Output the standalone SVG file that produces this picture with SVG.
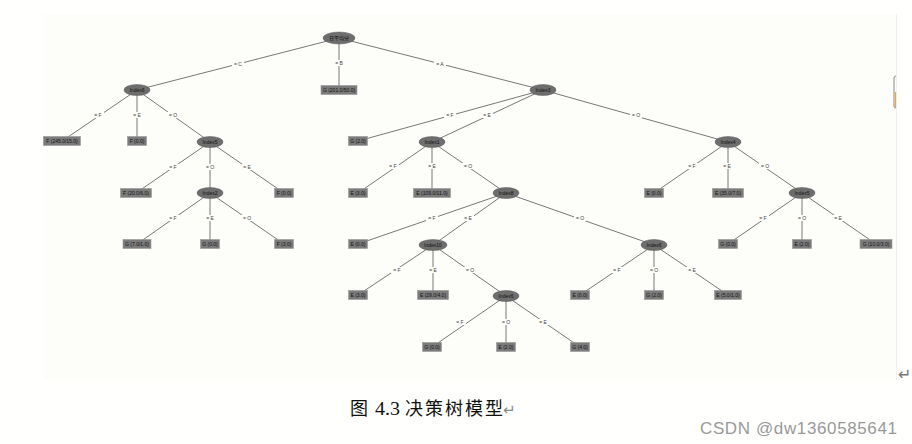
<svg xmlns="http://www.w3.org/2000/svg" width="912" height="444" viewBox="0 0 912 444">
<defs>
<style>
.bg{fill:#fdfdfa}
.e line{stroke:#555;stroke-width:0.8}
.lb rect{fill:#fdfdfa}
.lb text{font-family:"Liberation Sans",Arial,sans-serif;font-size:5px;fill:#444;text-anchor:middle}
.in ellipse{fill:#6e6e6e;stroke:#5a5a5a;stroke-width:0.5}
.lf rect{fill:#7b7b7b;stroke:#9a9a9a;stroke-width:0.6}
.in text,.lf text{font-family:"Liberation Sans",Arial,"Noto Sans CJK SC",sans-serif;font-size:5px;fill:#111;text-anchor:middle}
.cap{font-family:"Liberation Serif","Noto Sans CJK SC",serif;font-size:18px;fill:#111}
</style>
</defs>
<rect width="912" height="444" fill="#fffffe"/>
<rect class="bg" x="44" y="14" width="852" height="366"/>
<line x1="896.5" y1="14" x2="896.5" y2="380" stroke="#f0f0ec" stroke-width="1"/>
<g id="connectors" class="e">
<line x1="339" y1="38" x2="137" y2="90"/>
<line x1="339" y1="38" x2="339" y2="90"/>
<line x1="339" y1="38" x2="543" y2="90"/>
<line x1="137" y1="90" x2="62" y2="141"/>
<line x1="137" y1="90" x2="137" y2="141"/>
<line x1="137" y1="90" x2="210" y2="142"/>
<line x1="210" y1="142" x2="136" y2="193"/>
<line x1="210" y1="142" x2="210" y2="193"/>
<line x1="210" y1="142" x2="284" y2="193"/>
<line x1="210" y1="193" x2="137" y2="244"/>
<line x1="210" y1="193" x2="210" y2="244"/>
<line x1="210" y1="193" x2="284" y2="244"/>
<line x1="543" y1="90" x2="358" y2="141"/>
<line x1="543" y1="90" x2="432" y2="142"/>
<line x1="543" y1="90" x2="728" y2="142"/>
<line x1="432" y1="142" x2="358" y2="193"/>
<line x1="432" y1="142" x2="432" y2="193"/>
<line x1="432" y1="142" x2="506" y2="193"/>
<line x1="506" y1="193" x2="358" y2="244"/>
<line x1="506" y1="193" x2="433" y2="245"/>
<line x1="506" y1="193" x2="654" y2="245"/>
<line x1="433" y1="245" x2="358" y2="295"/>
<line x1="433" y1="245" x2="433" y2="295"/>
<line x1="433" y1="245" x2="506" y2="296"/>
<line x1="506" y1="296" x2="432" y2="347"/>
<line x1="506" y1="296" x2="506" y2="347"/>
<line x1="506" y1="296" x2="580" y2="347"/>
<line x1="654" y1="245" x2="580" y2="295"/>
<line x1="654" y1="245" x2="654" y2="295"/>
<line x1="654" y1="245" x2="728" y2="295"/>
<line x1="728" y1="142" x2="654" y2="193"/>
<line x1="728" y1="142" x2="728" y2="193"/>
<line x1="728" y1="142" x2="802" y2="193"/>
<line x1="802" y1="193" x2="728" y2="244"/>
<line x1="802" y1="193" x2="802" y2="244"/>
<line x1="802" y1="193" x2="876" y2="244"/>
</g>
<g id="edge-labels" class="lb">
<rect x="232" y="61" width="12" height="6"/><text x="238" y="65.8">= C</text>
<rect x="333" y="60" width="12" height="6"/><text x="339" y="64.8">= B</text>
<rect x="434" y="61" width="12" height="6"/><text x="440" y="65.8">= A</text>
<rect x="92" y="112" width="12" height="6"/><text x="98" y="116.8">= F</text>
<rect x="131" y="112" width="12" height="6"/><text x="137" y="116.8">= E</text>
<rect x="167" y="112" width="12" height="6"/><text x="173" y="116.8">= O</text>
<rect x="167" y="164" width="12" height="6"/><text x="173" y="168.8">= F</text>
<rect x="204" y="164" width="12" height="6"/><text x="210" y="168.8">= O</text>
<rect x="241" y="164" width="12" height="6"/><text x="247" y="168.8">= E</text>
<rect x="167" y="215" width="12" height="6"/><text x="173" y="219.8">= F</text>
<rect x="204" y="215" width="12" height="6"/><text x="210" y="219.8">= E</text>
<rect x="241" y="215" width="12" height="6"/><text x="247" y="219.8">= O</text>
<rect x="444" y="112" width="12" height="6"/><text x="450" y="116.8">= F</text>
<rect x="481" y="112" width="12" height="6"/><text x="487" y="116.8">= E</text>
<rect x="630" y="112" width="12" height="6"/><text x="636" y="116.8">= O</text>
<rect x="387" y="163" width="12" height="6"/><text x="393" y="167.8">= F</text>
<rect x="426" y="163" width="12" height="6"/><text x="432" y="167.8">= E</text>
<rect x="462" y="163" width="12" height="6"/><text x="468" y="167.8">= O</text>
<rect x="426" y="215" width="12" height="6"/><text x="432" y="219.8">= F</text>
<rect x="462" y="215" width="12" height="6"/><text x="468" y="219.8">= E</text>
<rect x="574" y="215" width="12" height="6"/><text x="580" y="219.8">= O</text>
<rect x="391" y="267" width="12" height="6"/><text x="397" y="271.8">= F</text>
<rect x="427" y="267" width="12" height="6"/><text x="433" y="271.8">= E</text>
<rect x="464" y="267" width="12" height="6"/><text x="470" y="271.8">= O</text>
<rect x="454" y="319" width="12" height="6"/><text x="460" y="323.8">= F</text>
<rect x="500" y="319" width="12" height="6"/><text x="506" y="323.8">= O</text>
<rect x="537" y="319" width="12" height="6"/><text x="543" y="323.8">= E</text>
<rect x="611" y="267" width="12" height="6"/><text x="617" y="271.8">= F</text>
<rect x="648" y="267" width="12" height="6"/><text x="654" y="271.8">= O</text>
<rect x="686" y="267" width="12" height="6"/><text x="692" y="271.8">= E</text>
<rect x="686" y="163" width="12" height="6"/><text x="692" y="167.8">= F</text>
<rect x="721" y="163" width="12" height="6"/><text x="727" y="167.8">= E</text>
<rect x="759" y="163" width="12" height="6"/><text x="765" y="167.8">= O</text>
<rect x="757" y="215" width="12" height="6"/><text x="763" y="219.8">= F</text>
<rect x="796" y="215" width="12" height="6"/><text x="802" y="219.8">= O</text>
<rect x="832" y="215" width="12" height="6"/><text x="838" y="219.8">= E</text>
</g>
<g id="root" class="in"><ellipse cx="339" cy="38" rx="16" ry="6"/><text x="339" y="39.8">日平均分</text></g>
<g id="index6a" class="in"><ellipse cx="137" cy="90" rx="13" ry="5.5"/><text x="137" y="91.8">Index6</text></g>
<g id="index5a" class="in"><ellipse cx="210" cy="142" rx="13" ry="5.5"/><text x="210" y="143.8">Index5</text></g>
<g id="index2" class="in"><ellipse cx="210" cy="193" rx="13" ry="5.5"/><text x="210" y="194.8">Index2</text></g>
<g id="index3" class="in"><ellipse cx="543" cy="90" rx="13" ry="5.5"/><text x="543" y="91.8">Index3</text></g>
<g id="index1" class="in"><ellipse cx="432" cy="142" rx="13" ry="5.5"/><text x="432" y="143.8">Index1</text></g>
<g id="index8" class="in"><ellipse cx="506" cy="193" rx="13" ry="5.5"/><text x="506" y="194.8">Index8</text></g>
<g id="index10" class="in"><ellipse cx="433" cy="245" rx="14" ry="5.5"/><text x="433" y="246.8">Index10</text></g>
<g id="index6b" class="in"><ellipse cx="506" cy="296" rx="13" ry="5.5"/><text x="506" y="297.8">Index6</text></g>
<g id="index6c" class="in"><ellipse cx="654" cy="245" rx="13" ry="5.5"/><text x="654" y="246.8">Index6</text></g>
<g id="index4" class="in"><ellipse cx="728" cy="142" rx="13" ry="5.5"/><text x="728" y="143.8">Index4</text></g>
<g id="index5b" class="in"><ellipse cx="802" cy="193" rx="13" ry="5.5"/><text x="802" y="194.8">Index5</text></g>
<g id="leaf1" class="lf"><rect x="321" y="85.5" width="36" height="9"/><text x="339" y="91.8">G (201.0/50.0)</text></g>
<g id="leaf2" class="lf"><rect x="43.5" y="136.5" width="37" height="9"/><text x="62" y="142.8">F (245.0/15.0)</text></g>
<g id="leaf3" class="lf"><rect x="127.5" y="136.5" width="19" height="9"/><text x="137" y="142.8">F (0.0)</text></g>
<g id="leaf4" class="lf"><rect x="120.5" y="188.5" width="31" height="9"/><text x="136" y="194.8">F (20.0/6.0)</text></g>
<g id="leaf5" class="lf"><rect x="274.5" y="188.5" width="19" height="9"/><text x="284" y="194.8">F (0.0)</text></g>
<g id="leaf6" class="lf"><rect x="123" y="239.5" width="28" height="9"/><text x="137" y="245.8">G (7.0/1.0)</text></g>
<g id="leaf7" class="lf"><rect x="200.5" y="239.5" width="19" height="9"/><text x="210" y="245.8">G (0.0)</text></g>
<g id="leaf8" class="lf"><rect x="274.5" y="239.5" width="19" height="9"/><text x="284" y="245.8">F (3.0)</text></g>
<g id="leaf9" class="lf"><rect x="348.5" y="136.5" width="19" height="9"/><text x="358" y="142.8">G (2.0)</text></g>
<g id="leaf10" class="lf"><rect x="348.5" y="188.5" width="19" height="9"/><text x="358" y="194.8">E (3.0)</text></g>
<g id="leaf11" class="lf"><rect x="413.5" y="188.5" width="37" height="9"/><text x="432" y="194.8">E (109.0/11.0)</text></g>
<g id="leaf12" class="lf"><rect x="348.5" y="239.5" width="19" height="9"/><text x="358" y="245.8">E (0.0)</text></g>
<g id="leaf13" class="lf"><rect x="348.5" y="290.5" width="19" height="9"/><text x="358" y="296.8">E (3.0)</text></g>
<g id="leaf14" class="lf"><rect x="417.5" y="290.5" width="31" height="9"/><text x="433" y="296.8">E (29.0/4.0)</text></g>
<g id="leaf15" class="lf"><rect x="422.5" y="342.5" width="19" height="9"/><text x="432" y="348.8">G (0.0)</text></g>
<g id="leaf16" class="lf"><rect x="496.5" y="342.5" width="19" height="9"/><text x="506" y="348.8">E (2.0)</text></g>
<g id="leaf17" class="lf"><rect x="570.5" y="342.5" width="19" height="9"/><text x="580" y="348.8">G (4.0)</text></g>
<g id="leaf18" class="lf"><rect x="570.5" y="290.5" width="19" height="9"/><text x="580" y="296.8">E (0.0)</text></g>
<g id="leaf19" class="lf"><rect x="644.5" y="290.5" width="19" height="9"/><text x="654" y="296.8">G (2.0)</text></g>
<g id="leaf20" class="lf"><rect x="714.5" y="290.5" width="27" height="9"/><text x="728" y="296.8">E (5.0/1.0)</text></g>
<g id="leaf21" class="lf"><rect x="644.5" y="188.5" width="19" height="9"/><text x="654" y="194.8">E (0.0)</text></g>
<g id="leaf22" class="lf"><rect x="712.5" y="188.5" width="31" height="9"/><text x="728" y="194.8">E (35.0/7.0)</text></g>
<g id="leaf23" class="lf"><rect x="718.5" y="239.5" width="19" height="9"/><text x="728" y="245.8">G (0.0)</text></g>
<g id="leaf24" class="lf"><rect x="792.5" y="239.5" width="19" height="9"/><text x="802" y="245.8">E (2.0)</text></g>
<g id="leaf25" class="lf"><rect x="860" y="239.5" width="32" height="9"/><text x="876" y="245.8">G (10.0/3.0)</text></g>
<path d="M896 76 Q894 76 894 78 L894 106 Q894 108 896 108" fill="none" stroke="#8a8a8a" stroke-width="1"/>
<line x1="895.5" y1="92" x2="895.5" y2="107" stroke="#f0a050" stroke-width="1.2"/>
<text x="898" y="380" font-family="'DejaVu Sans',sans-serif" font-size="16" fill="#777">↵</text>
<text class="cap" x="350" y="415">图</text>
<text class="cap" x="375" y="415" textLength="25" lengthAdjust="spacingAndGlyphs">4.3</text>
<text class="cap" x="405" y="415" textLength="98">决策树模型</text>
<text x="503" y="415" font-family="'DejaVu Sans',sans-serif" font-size="15" fill="#888">↵</text>
<text x="700" y="434" font-family="'Liberation Sans',Arial,sans-serif" font-size="17" fill="#999" textLength="197">CSDN @dw1360585641</text>
</svg>
